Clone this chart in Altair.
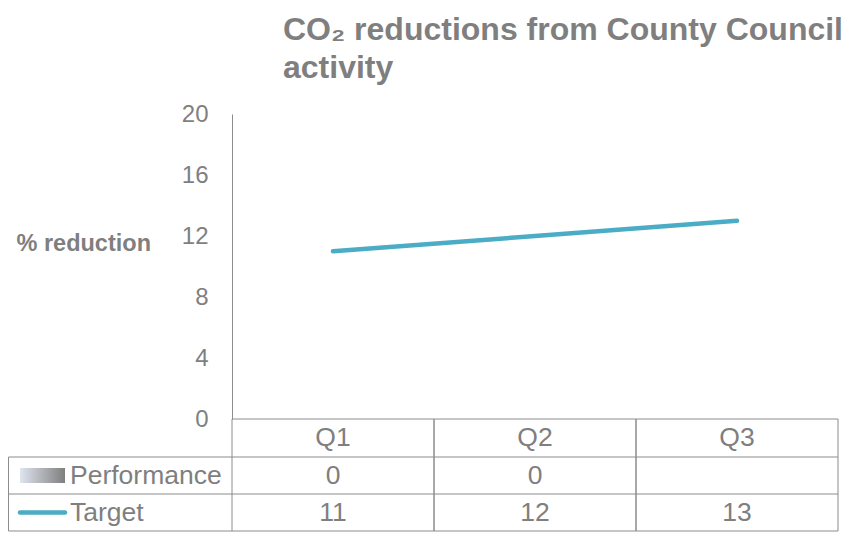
import altair as alt
import pandas as pd

# ---- data ----
quarters = ["Q1", "Q2", "Q3"]
performance = [0, 0, None]
target = [11, 12, 13]
y_ticks = [0, 4, 8, 12, 16, 20]
series_names = ["Performance", "Target"]
title_lines = ["CO\u2082 reductions from County Council", "activity"]
y_title = "% reduction"

# ---- styling ----
GRAY_TXT = "#7f7f7f"
LINE_GRAY = "#8c8c8c"
TEAL = "#4bacc6"
FONT = "Liberation Sans"
W, H = 606, 305
ROW_LINES = [343, 380, 417]
Q_Y, PERF_Y, TARG_Y = 324, 361.5, 398.5
LEFT = -223.5

df = pd.DataFrame({"quarter": quarters, "performance": performance, "target": target})
one = pd.DataFrame({"k": [0]})

xscale = alt.Scale(type="band", paddingInner=0, paddingOuter=0, domain=quarters)


def xenc(bp=None):
    if bp is None:
        return alt.X("quarter:N", scale=xscale, axis=None)
    return alt.X("quarter:N", scale=xscale, axis=None, bandPosition=bp)


yscale = alt.Scale(domain=[0, 20])
yaxis = alt.Axis(
    values=y_ticks, ticks=False, grid=False, domainColor=LINE_GRAY,
    labelColor=GRAY_TXT, labelFontSize=24, labelFont=FONT, labelPadding=24,
    title=y_title, titleAngle=0, titleAlign="left", titleBaseline="middle",
    titleX=-216, titleY=129, titleFont=FONT, titleFontSize=23.5,
    titleFontWeight="bold", titleColor=GRAY_TXT,
)

base = alt.Chart(df)

bars = base.mark_bar(color="#a6a6a6").encode(
    x=xenc(), y=alt.Y("performance:Q", scale=yscale, axis=yaxis)
)

line = base.mark_line(color=TEAL, strokeWidth=4.5, strokeCap="round").encode(
    x=xenc(0.5), y=alt.Y("target:Q", scale=yscale)
)

vrules_l = base.mark_rule(color=LINE_GRAY, strokeWidth=1).encode(
    x=xenc(0), y=alt.value(H), y2=alt.value(ROW_LINES[-1])
)
vrules_r = base.mark_rule(color=LINE_GRAY, strokeWidth=1).encode(
    x=xenc(1), y=alt.value(H), y2=alt.value(ROW_LINES[-1])
)

hlines = [
    alt.Chart(one).mark_rule(color=LINE_GRAY, strokeWidth=1).encode(
        x=alt.value(0), x2=alt.value(W), y=alt.value(H)
    )
]
for yy in ROW_LINES:
    hlines.append(
        alt.Chart(one).mark_rule(color=LINE_GRAY, strokeWidth=1).encode(
            x=alt.value(LEFT), x2=alt.value(W), y=alt.value(yy)
        )
    )
left_edge = alt.Chart(one).mark_rule(color=LINE_GRAY, strokeWidth=1).encode(
    x=alt.value(LEFT), y=alt.value(ROW_LINES[0]), y2=alt.value(ROW_LINES[-1])
)

txt = dict(font=FONT, fontSize=26.5, color=GRAY_TXT, baseline="middle")

q_text = base.mark_text(**txt).encode(x=xenc(0.5), y=alt.value(Q_Y), text="quarter:N")
perf_text = base.transform_filter("isValid(datum.performance)").mark_text(**txt).encode(
    x=xenc(0.5), y=alt.value(PERF_Y), text="performance:Q"
)
targ_text = base.mark_text(**txt).encode(x=xenc(0.5), y=alt.value(TARG_Y), text="target:Q")

names = pd.DataFrame({"series": series_names})
perf_label = alt.Chart(names).transform_filter(
    alt.datum.series == series_names[0]
).mark_text(align="left", **txt).encode(x=alt.value(-162), y=alt.value(PERF_Y), text="series:N")
targ_label = alt.Chart(names).transform_filter(
    alt.datum.series == series_names[1]
).mark_text(align="left", **txt).encode(x=alt.value(-162), y=alt.value(TARG_Y), text="series:N")

grad = alt.Gradient(
    gradient="linear",
    stops=[alt.GradientStop(color="#dfe4ee", offset=0), alt.GradientStop(color="#7f7f7f", offset=1)],
    x1=0, x2=1, y1=0, y2=0,
)
perf_sym = alt.Chart(one).mark_rect(color=grad).encode(
    x=alt.value(-212), x2=alt.value(-167), y=alt.value(PERF_Y - 7.5), y2=alt.value(PERF_Y + 7.5)
)
targ_sym = alt.Chart(one).mark_rule(color=TEAL, strokeWidth=4.5, strokeCap="round").encode(
    x=alt.value(-212), x2=alt.value(-167), y=alt.value(TARG_Y)
)

chart = alt.layer(
    bars, *hlines, left_edge, vrules_l, vrules_r, line,
    q_text, perf_text, targ_text, perf_label, targ_label, perf_sym, targ_sym,
).properties(
    width=W, height=H,
    padding={"left": 224, "top": 106, "right": 20, "bottom": 113},
    autosize=alt.AutoSizeParams(type="none"),
    title=alt.TitleParams(
        title_lines, anchor="start", frame="group", dx=51, fontSize=32, font=FONT,
        fontWeight="bold", color=GRAY_TXT, lineHeight=38, offset=17,
    ),
    background="white",
).configure_view(stroke=None)

chart.save("out.html", embed_options={"renderer": "svg", "actions": False})
